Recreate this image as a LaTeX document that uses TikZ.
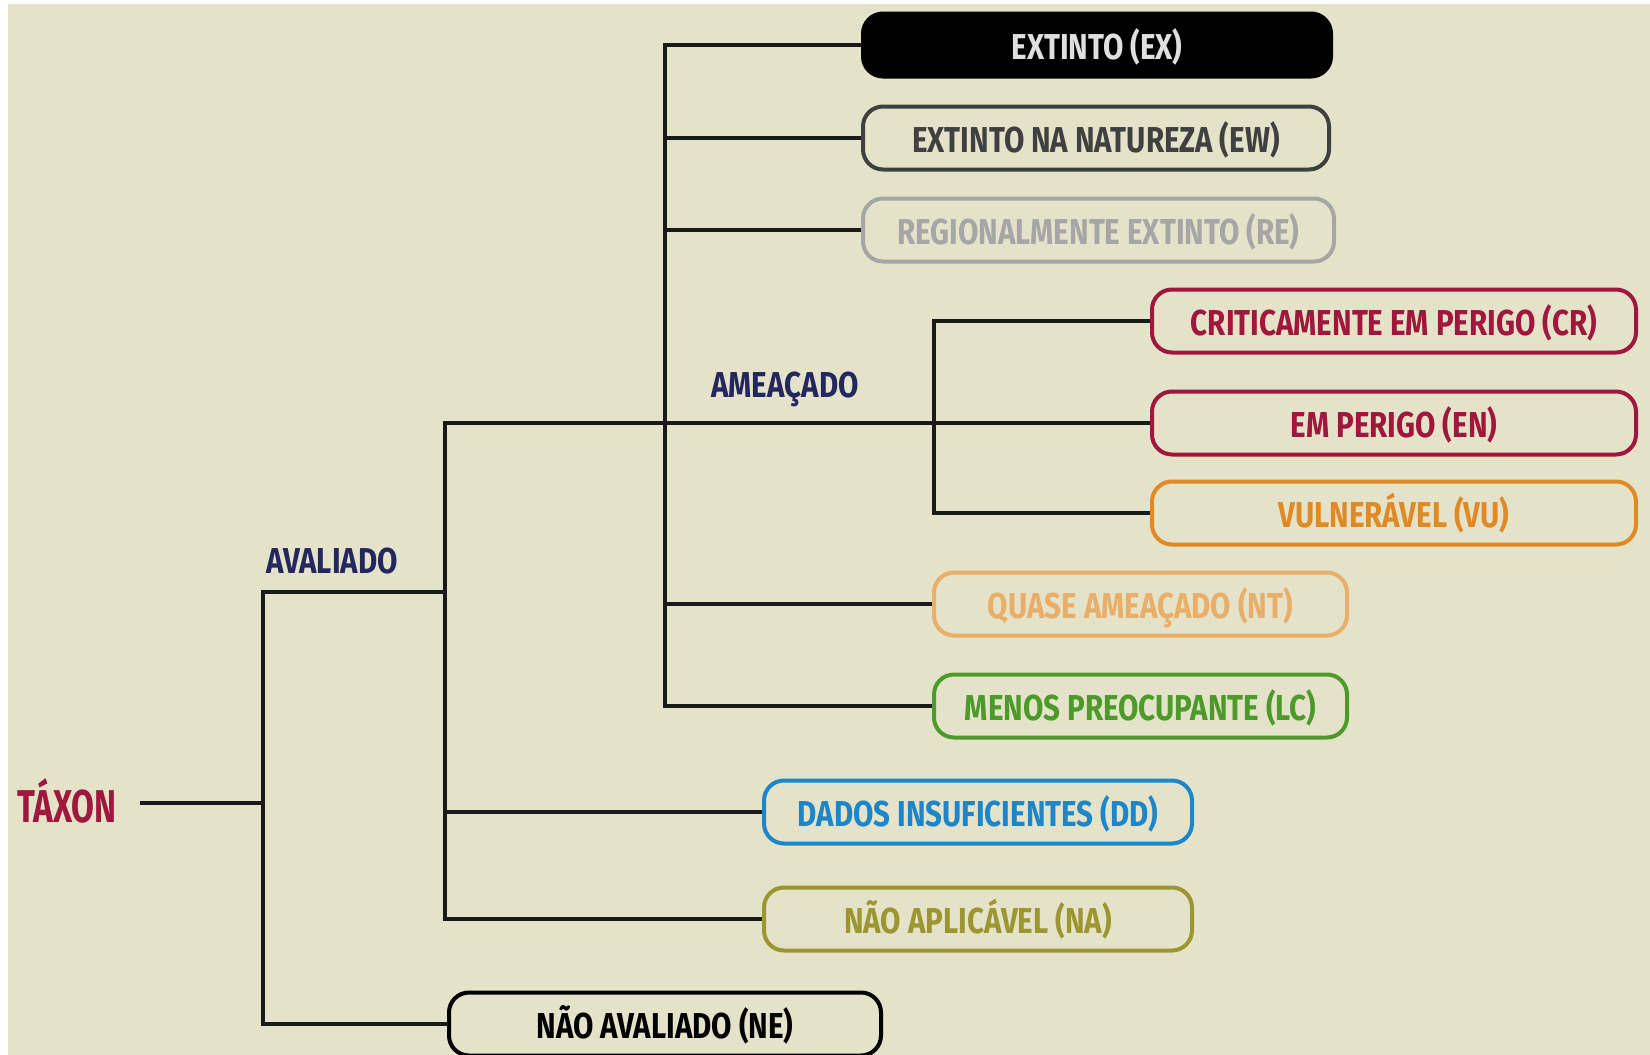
\documentclass[tikz,border=0pt]{standalone}
\usepackage{fontspec}
\newfontfamily\cond{Fira Sans}[FakeStretch=0.82]
\newfontfamily\condt{Fira Sans}[FakeStretch=0.72]
\definecolor{bg}{HTML}{E4E2C8}
\definecolor{crim}{HTML}{A0173D}
\definecolor{navy}{HTML}{23275E}
\definecolor{ewc}{HTML}{404040}
\definecolor{rec}{HTML}{A6A6A6}
\definecolor{vuc}{HTML}{E08A25}
\definecolor{ntc}{HTML}{E9AE68}
\definecolor{lcc}{HTML}{4C9A2A}
\definecolor{ddc}{HTML}{1C86C8}
\definecolor{nac}{HTML}{9C9630}
\definecolor{linec}{HTML}{1A1A1A}
\begin{document}
\begin{tikzpicture}[x=0.5pt,y=-0.5pt,
  catbox/.style={draw=#1, text=#1, line width=2pt, rounded corners=10pt,
    minimum height=31.5pt, inner sep=0pt, anchor=center,
    text height=14pt, text depth=0pt,
    font=\cond\bfseries\fontsize{18}{20}\selectfont},
  conn/.style={draw=linec, line width=2pt, line join=miter},
  lbl/.style={inner sep=0pt, font=\cond\bfseries\fontsize{18}{20}\selectfont}]
\useasboundingbox (0,0) rectangle (1650,1055);
\fill[white] (0,0) rectangle (1650,1055);
\fill[bg] (8,4) rectangle (1650,1055);

% nodes
\node[lbl, text=crim, font=\condt\bfseries\fontsize{23}{26}\selectfont] (taxon) at (67,801) {TÁXON};
\node[lbl, text=navy] (aval) at (332,561) {AVALIADO};
\node[lbl, text=navy] (amea) at (785,389) {AMEAÇADO};

\node[catbox=black, fill=black, text=white!88!black, minimum width=234pt] (ex) at (1097,45) {EXTINTO (EX)};
\node[catbox=ewc, minimum width=233pt] (ew) at (1096,138) {EXTINTO NA NATUREZA (EW)};
\node[catbox=rec, minimum width=235.5pt] (re) at (1098.5,230) {REGIONALMENTE EXTINTO (RE)};
\node[catbox=crim, minimum width=242pt] (cr) at (1394,321) {CRITICAMENTE EM PERIGO (CR)};
\node[catbox=crim, minimum width=242pt] (en) at (1394,423) {EM PERIGO (EN)};
\node[catbox=vuc, minimum width=242pt] (vu) at (1394,513) {VULNERÁVEL (VU)};
\node[catbox=ntc, minimum width=206.5pt] (nt) at (1140.5,604) {QUASE AMEAÇADO (NT)};
\node[catbox=lcc, minimum width=206.5pt] (lc) at (1140.5,706) {MENOS PREOCUPANTE (LC)};
\node[catbox=ddc, minimum width=214pt] (dd) at (978,812) {DADOS INSUFICIENTES (DD)};
\node[catbox=nac, minimum width=214pt] (na) at (978,919) {NÃO APLICÁVEL (NA)};
\node[catbox=black, minimum width=216pt] (ne) at (665,1024) {NÃO AVALIADO (NE)};

% junctions
\coordinate (v1top) at (263,592);
\coordinate (v1bot) at (263,1024);
\coordinate (v2top) at (445,423);
\coordinate (v2bot) at (445,919);
\coordinate (v3top) at (665,45);
\coordinate (v3bot) at (665,706);
\coordinate (v4top) at (934,321);
\coordinate (v4bot) at (934,513);
\coordinate (tx) at ([xshift=11.5pt,yshift=-1pt]taxon.east);

% connectors
\draw[conn] (tx) -- (tx -| v1top);
\draw[conn] (v2top |- v1top) -- (v1top) -- (v1bot) -- (ne.west);
\draw[conn] (en.west) -- (v2top) -- (v2bot) -- (na.west);
\draw[conn] (v2top |- dd.west) -- (dd.west);
\draw[conn] (ex.west) -- (v3top) -- (v3bot) -- (lc.west);
\draw[conn] (v3top |- ew.west) -- (ew.west);
\draw[conn] (v3top |- re.west) -- (re.west);
\draw[conn] (v3top |- nt.west) -- (nt.west);
\draw[conn] (cr.west) -- (v4top) -- (v4bot) -- (vu.west);
\end{tikzpicture}
\end{document}
